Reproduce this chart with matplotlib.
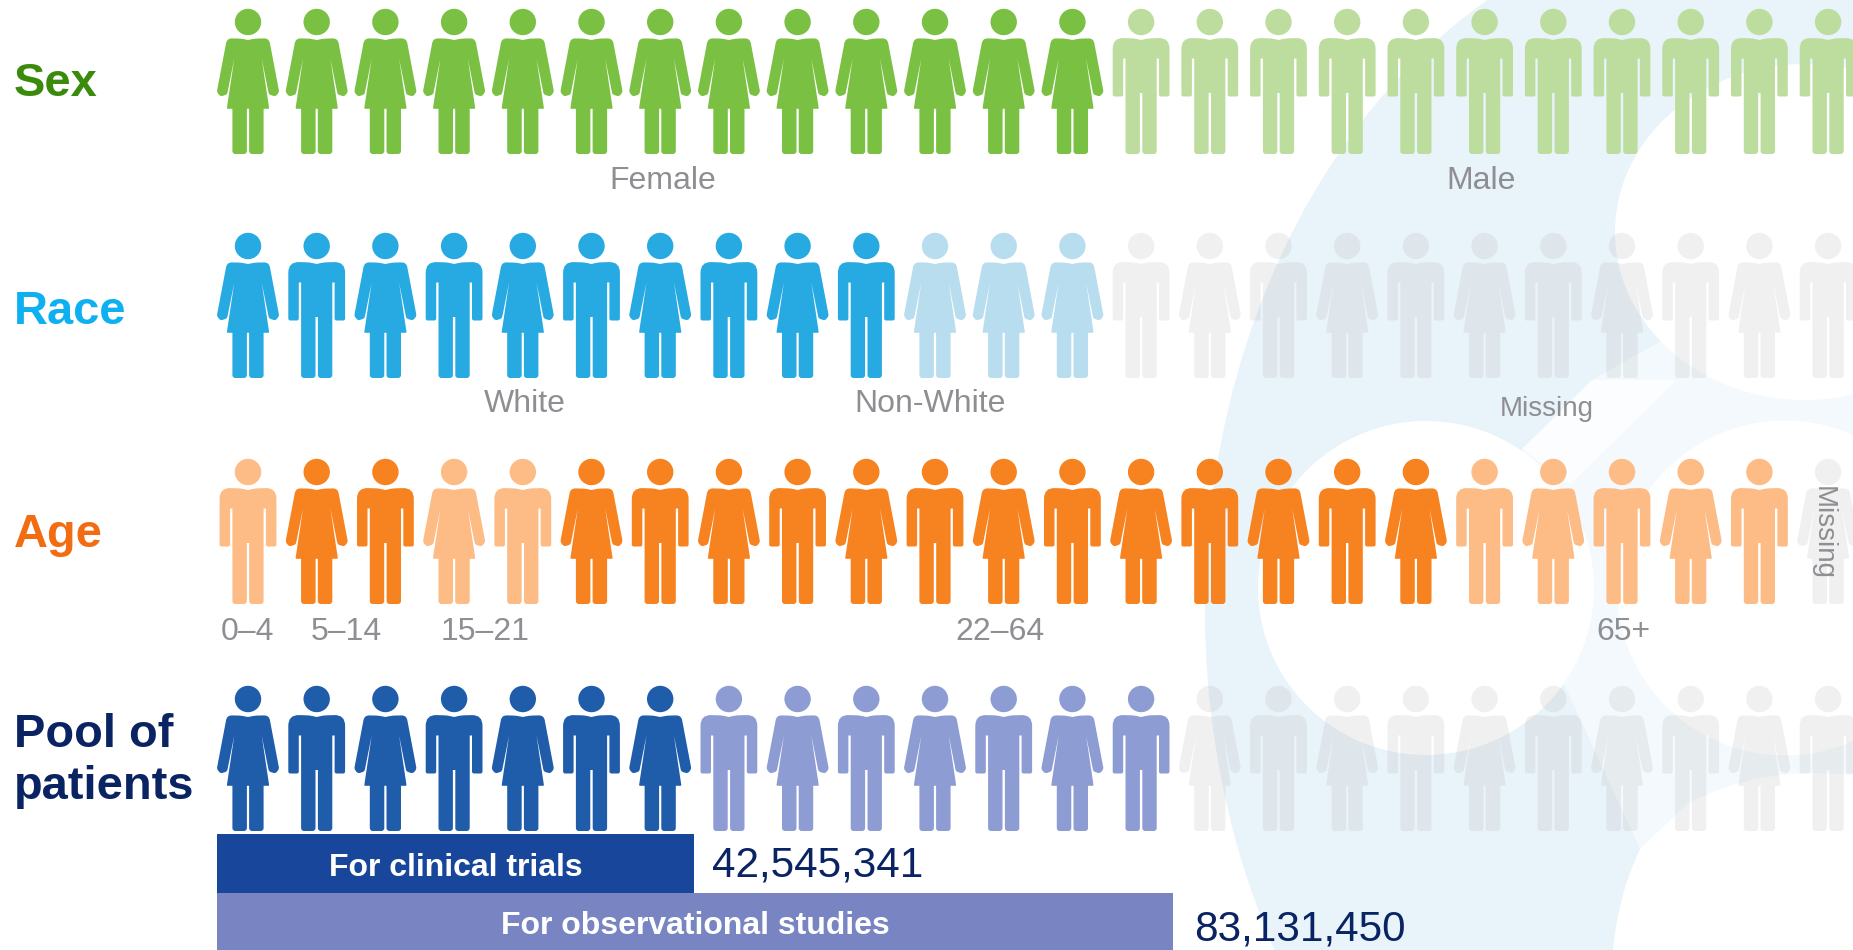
import matplotlib
matplotlib.use("Agg")
import matplotlib.pyplot as plt
from matplotlib.patches import PathPatch, Ellipse, Polygon
from matplotlib.path import Path
from matplotlib.transforms import Affine2D

plt.rcParams['font.family'] = ['Liberation Sans', 'DejaVu Sans']

## DATA
sex_groups = [13, 11]
race_groups = [10, 3, 11]
age_groups = [1, 2, 2, 13, 5, 1]
pool_groups = [7, 7, 10]

sex_figures = "FFFFFFFFFFFFFMMMMMMMMMMM"
race_figures = "FMFMFMFMFMFFFMFMFMFMFMFM"
age_figures = "MFMFMFMFMFMFMFMFMFMFMFMF"
pool_figures = "FMFMFMFMFMFMFMFMFMFMFMFM"

sex_labels = ["Female", "Male"]
race_labels = ["White", "Non-White", "Missing"]
age_labels = ["0–4", "5–14", "15–21", "22–64", "65+", "Missing"]

bar_labels = ["For clinical trials", "For observational studies"]
bar_numbers = ["42,545,341", "83,131,450"]
bar_columns = [6.94, 13.92]   # length of the bars, in figures

## STYLE
GREY = ('#BBBBBB', 0.22)
GREEN, GREEN_L = ('#7AC143', 1), ('#BDDD9E', 1)
BLUE, BLUE_L = ('#27AAE1', 1), ('#B8DDEE', 1)
ORANGE, ORANGE_L = ('#F68220', 1), ('#FDBB85', 1)
NAVY, NAVY_L = ('#1F5DAB', 1), ('#8D9CD2', 1)
TEXT_GREY = '#8D8F92'
DARK = '#0A2463'

X0 = 248
PITCH = 68.7


def rounded(points):
    # points are (x, y, corner radius), gives a closed path
    verts, codes = [], []
    n = len(points)
    for i, (x, y, r) in enumerate(points):
        if r == 0:
            verts.append((x, y))
            codes.append(Path.LINETO)
            continue
        for k, (px, py, _) in enumerate((points[i - 1], points[(i + 1) % n])):
            dx, dy = px - x, py - y
            d = (dx * dx + dy * dy) ** 0.5
            t = min(r, d / 2) / d
            q = (x + dx * t, y + dy * t)
            if k == 0:
                verts.append(q)
                codes.append(Path.LINETO)
            else:
                verts += [(x, y), q]
                codes += [Path.CURVE3, Path.CURVE3]
    codes[0] = Path.MOVETO
    verts.append(verts[0])
    codes.append(Path.CLOSEPOLY)
    return Path(verts, codes)


def mirrored(half):
    return half + [(-x, y, r) for x, y, r in reversed(half[1:])]


head = Path.circle((0, 13), 13.2)

female_half = [(0, 31, 0), (7, 29.6, 3), (21, 29.3, 5), (31.2, 83, 2), (27.5, 87.5, 2),
               (20.9, 85.5, 2), (13.7, 49.5, 0), (20.8, 97, 0), (21.2, 99.8, 1),
               (15.6, 99.8, 0), (15.6, 145, 3), (1.1, 145, 3), (1.1, 99.8, 0)]
male_half = [(0, 31, 0), (7, 29.4, 3), (28.4, 28.8, 11), (28.4, 87.5, 2), (17.9, 87.5, 2),
             (17.9, 49.5, 0), (15.6, 49.5, 0), (15.6, 145, 3), (1.2, 145, 3), (1.2, 84, 0)]
shapes = {
    "F": Path.make_compound_path(head, rounded(mirrored(female_half))),
    "M": Path.make_compound_path(head, rounded(mirrored(male_half))),
}

fig = plt.figure(figsize=(18.53, 9.5), dpi=100)
ax = fig.add_axes([0, 0, 1, 1])
ax.set_xlim(0, 1853)
ax.set_ylim(950, 0)
ax.axis('off')

# logo in the background
WASH = '#E8F3FA'
PALE = '#F3F9FC'
ax.add_patch(Ellipse((1750, 610), 1090, 1392, fc=WASH, lw=0, zorder=0))
ax.add_patch(Polygon([(1522, 449), (1592, 380), (1680, 330), (1853, 330), (1853, 950),
                      (1640, 849), (1563, 682)], fc=PALE, lw=0, zorder=0.05))
ax.add_patch(Polygon([(1522, 449), (1592, 380), (1677, 380), (1570, 485)],
                     fc='#FBFDFE', lw=0, zorder=0.06))
for c, w, h in [((1805, 232), 380, 336), ((1426, 588), 336, 334), ((1785, 588), 336, 335)]:
    ax.add_patch(Ellipse(c, w, h, fc='white', lw=0, zorder=0.1))
corner = Path([(1613, 950), (1618, 895), (1640, 849), (1687, 804), (1760, 765), (1853, 775),
               (1853, 950), (1613, 950)],
              [Path.MOVETO, Path.CURVE3, Path.CURVE3, Path.LINETO, Path.CURVE3, Path.CURVE3,
               Path.LINETO, Path.CLOSEPOLY])
ax.add_patch(PathPatch(corner, fc='white', lw=0, zorder=0.1))


def draw_row(top, figures, groups, colors):
    col = 0
    for n, (color, alpha) in zip(groups, colors):
        for _ in range(n):
            tr = Affine2D().translate(X0 + col * PITCH, top)
            ax.add_patch(PathPatch(shapes[figures[col]].transformed(tr), fc=color,
                                   alpha=alpha, lw=0, zorder=2))
            col += 1


draw_row(9, sex_figures, sex_groups, [GREEN, GREEN_L])
draw_row(233, race_figures, race_groups, [BLUE, BLUE_L, GREY])
draw_row(459, age_figures, age_groups,
         [ORANGE_L, ORANGE, ORANGE_L, ORANGE, ORANGE_L, GREY])
draw_row(686, pool_figures, pool_groups, [NAVY, NAVY_L, GREY])

# row titles
title_kw = dict(fontsize=33.8, fontweight='bold', va='center', ha='left', zorder=3)
ax.text(14, 84, "Sex", color='#3A8A0C', **title_kw)
ax.text(14, 312, "Race", color='#0DB0F0', **title_kw)
ax.text(14, 535, "Age", color='#F26C12', **title_kw)
ax.text(14, 735, "Pool of", color=DARK, **title_kw)
ax.text(14, 787, "patients", color=DARK, **title_kw)

# group labels
label_x = {"sex": [663, 1481], "race": [525, 930, 1547], "age": [247, 346, 485, 1000, 1623]}
label_kw = dict(color=TEXT_GREY, ha='center', va='center', zorder=3)
for name, x in zip(sex_labels, label_x["sex"]):
    ax.text(x, 181, name, fontsize=23, **label_kw)
for name, x in zip(race_labels[:2], label_x["race"]):
    ax.text(x, 404, name, fontsize=23, **label_kw)
ax.text(label_x["race"][2], 409, race_labels[2], fontsize=20, **label_kw)
for name, x in zip(age_labels[:5], label_x["age"]):
    ax.text(x, 632, name, fontsize=23, **label_kw)
ax.text(1823, 533, age_labels[5], fontsize=20, rotation=270, **label_kw)

# bars at the bottom
bar_y = [863.5, 921.5]
bar_h = [59, 57]
bar_colors = ['#18469B', '#7885C2']
num_dx = [18, 21]
num_dy = [2, 8]
for i in range(2):
    left = X0 - 31
    width = bar_columns[i] * PITCH
    ax.barh(bar_y[i], width, height=bar_h[i], left=left, color=bar_colors[i], lw=0, zorder=2)
    ax.text(left + width / 2, bar_y[i] + 4, bar_labels[i], color='white', fontsize=23,
            fontweight='bold', ha='center', va='center', zorder=3)
    ax.text(left + width + num_dx[i], bar_y[i] + num_dy[i], bar_numbers[i], color=DARK,
            fontsize=30.4, ha='left', va='center', zorder=3)

fig.savefig("out.png", dpi=100)
